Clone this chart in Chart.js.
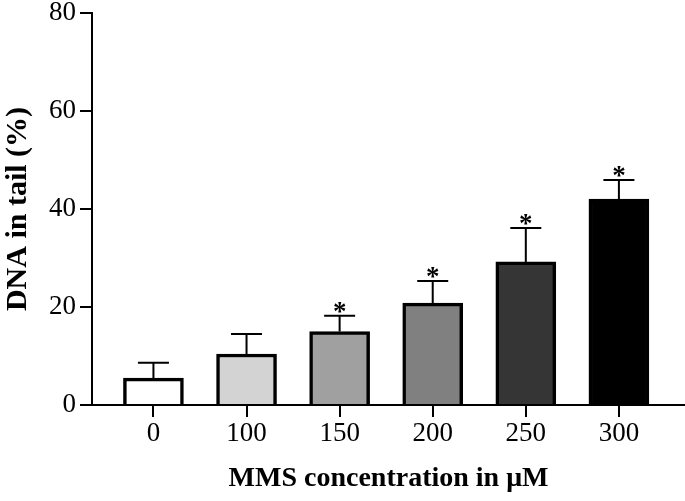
<!DOCTYPE html>
<html>
<head>
<meta charset="utf-8">
<script src="https://cdn.jsdelivr.net/npm/chart.js@4.4.1/dist/chart.umd.min.js"></script>
<style>
  html, body { margin: 0; padding: 0; background: #fff; }
  #wrap { width: 685px; height: 501px; }
</style>
</head>
<body>
<div id="wrap"><canvas id="c"></canvas></div>
<script>
const categories = ['0', '100', '150', '200', '250', '300'];
const means = [5.5, 10.4, 15.0, 20.8, 29.2, 42.0];
const errors = [3.1, 4.1, 3.2, 4.5, 6.9, 3.9];
const significant = [false, false, true, true, true, true];
const barColors = ['#ffffff', '#d3d3d3', '#a0a0a0', '#808080', '#353535', '#000000'];
const yTicks = [0, 20, 40, 60, 80];

const serif = "'Liberation Serif', 'Times New Roman', serif";

const errorPlugin = {
  id: 'errs',
  afterDatasetsDraw(chart) {
    const ctx = chart.ctx;
    const xs = chart.scales.x, ys = chart.scales.y;
    ctx.save();
    ctx.strokeStyle = '#000';
    ctx.lineWidth = 2;
    means.forEach((m, i) => {
      const x = xs.getPixelForValue(i);
      const yTop = ys.getPixelForValue(m);
      const yErr = ys.getPixelForValue(m + errors[i]);
      ctx.beginPath();
      ctx.moveTo(x, yTop);
      ctx.lineTo(x, yErr);
      ctx.moveTo(x - 15.5, yErr);
      ctx.lineTo(x + 15.5, yErr);
      ctx.stroke();
      if (significant[i]) {
        ctx.fillStyle = '#000';
        ctx.font = 'bold 27px ' + serif;
        ctx.textAlign = 'center';
        ctx.textBaseline = 'alphabetic';
        ctx.fillText('*', x, yErr + 4);
      }
    });
    ctx.restore();
  }
};

new Chart(document.getElementById('c'), {
  type: 'bar',
  data: {
    datasets: [{
      data: means.map((v, i) => ({ x: i, y: v })),
      backgroundColor: barColors,
      borderColor: '#000',
      borderWidth: 3.5,
      borderSkipped: 'start',
      barThickness: 60
    }]
  },
  options: {
    responsive: true,
    maintainAspectRatio: false,
    animation: false,
    layout: { padding: { top: 13, right: 0, left: 0, bottom: 0 } },
    plugins: { legend: { display: false }, tooltip: { enabled: false } },
    scales: {
      x: {
        type: 'linear',
        offset: false,
        min: -0.66,
        max: 5.71,
        afterBuildTicks: s => { s.ticks = categories.map((c, i) => ({ value: i })); },
        afterFit: s => { s.height = 96; },
        grid: { display: true, offset: false, drawOnChartArea: false, drawTicks: true, tickLength: 12, color: '#000', lineWidth: 2 },
        border: { display: true, color: '#000', width: 2 },
        ticks: {
          autoSkip: false,
          maxRotation: 0,
          color: '#000',
          font: { family: serif, size: 27 },
          padding: 1,
          callback: (v) => categories[v]
        },
        title: {
          display: true,
          text: 'MMS concentration in μM',
          color: '#000',
          font: { family: serif, size: 28, weight: 'bold' },
          padding: { top: 4, bottom: 5 }
        }
      },
      y: {
        min: 0,
        max: 80,
        afterBuildTicks: s => { s.ticks = yTicks.map(v => ({ value: v })); },
        afterFit: s => { s.width = 92; s.paddingTop = 0; },
        grid: { display: true, drawOnChartArea: false, drawTicks: true, tickLength: 12, color: '#000', lineWidth: 2 },
        border: { display: true, color: '#000', width: 2 },
        ticks: {
          color: '#000',
          font: { family: serif, size: 27 },
          padding: 4
        },
        title: {
          display: true,
          text: 'DNA in tail (%)',
          color: '#000',
          font: { family: serif, size: 30, weight: 'bold' },
          padding: { top: 0, bottom: 6 }
        }
      }
    }
  },
  plugins: [errorPlugin]
});
</script>
</body>
</html>
